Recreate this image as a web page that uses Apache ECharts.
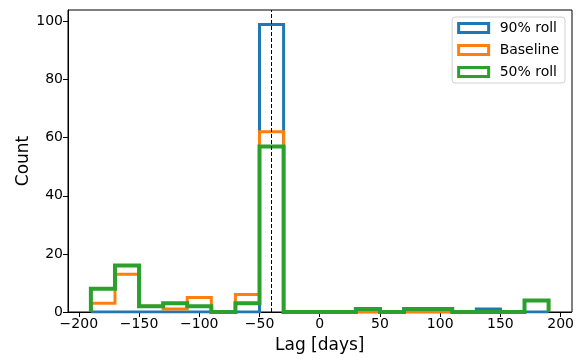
<!DOCTYPE html>
<html><head><meta charset="utf-8">
<script src="https://cdn.jsdelivr.net/npm/echarts@6/dist/echarts.min.js"></script>
<style>html,body{margin:0;padding:0;background:#fff}#c{width:577px;height:364px}</style>
</head><body><div id="c"></div>
<script>
// Bin edges (days)
const binEdges = [-190,-170,-150,-130,-110,-90,-70,-50,-30,-10,10,30,50,70,90,110,130,150,170,190];
const roll90   = [0,0,0,0,0,0,0,99,0,0,0,0,0,0,0,0,1,0,0];
const baseline = [3,13,2,1,5,0,6,62,0,0,0,0,0,0,0,0,0,0,4];
const roll50   = [8,16,2,3,2,0,3,57,0,0,0,1,0,1,1,0,0,0,4];
const xTicks = [-200,-150,-100,-50,0,50,100,150,200];
const yTicks = [0,20,40,60,80,100];
const lagLine = -40;

function stepPoints(counts){
  const pts = [[binEdges[0],0]];
  for(let i=0;i<counts.length;i++){
    pts.push([binEdges[i],counts[i]]);
    pts.push([binEdges[i+1],counts[i]]);
  }
  pts.push([binEdges[binEdges.length-1],0]);
  return pts;
}
const font = 'DejaVu Sans';
const colors = ['#1f77b4','#ff7f0e','#2ca02c'];
const widths = [3,3,4];
const names = ['90% roll','Baseline','50% roll'];
const datas = [roll90, baseline, roll50];

const chart = echarts.init(document.getElementById('c'));
const series = datas.map((d,i)=>({
  name: names[i], type:'line', data: stepPoints(d), showSymbol:false, symbol:'none',
  lineStyle:{color:colors[i], width:widths[i], join:'miter'}, itemStyle:{color:colors[i]},
  animation:false, z:2+i
}));
series[0].markLine = {silent:true, symbol:'none', label:{show:false}, z:10,
    lineStyle:{color:'#000', type:[4,2], width:1}, data:[{xAxis:lagLine}]};
chart.setOption({
  animation:false,
  grid:{left:68, right:5, top:10, bottom:52},
  xAxis:{type:'value', min:-209, max:209,
    name:'Lag [days]', nameLocation:'middle', nameGap:25, nameMoveOverlap:false,
    nameTextStyle:{fontFamily:font, fontSize:17, color:'#000'},
    axisLine:{show:true, onZero:false, lineStyle:{color:'#000', width:1}},
    axisTick:{show:true, length:5, lineStyle:{color:'#000'}, customValues: xTicks},
    axisLabel:{fontFamily:font, fontSize:14, color:'#000', margin:5,
      formatter:v=> String(v).replace('-','\u2212'), customValues: xTicks},
    splitLine:{show:false}
  },
  yAxis:{type:'value', min:0, max:103.95,
    name:'Count', nameLocation:'middle', nameGap:36, nameMoveOverlap:false,
    nameTextStyle:{fontFamily:font, fontSize:17, color:'#000'},
    axisLine:{show:true, onZero:false, lineStyle:{color:'#000', width:1}},
    axisTick:{show:true, length:5, lineStyle:{color:'#000'}, customValues: yTicks},
    axisLabel:{fontFamily:font, fontSize:14, color:'#000', margin:5, customValues: yTicks},
    splitLine:{show:false}
  },
  legend:{right:12, top:17, orient:'vertical', icon:'rect', itemWidth:30, itemHeight:9, itemGap:8,
    padding:[4,6,4,5], borderColor:'#d0d0d0', borderWidth:1, borderRadius:3, backgroundColor:'#fff',
    textStyle:{fontFamily:font, fontSize:14, color:'#000', padding:[0,0,0,6]},
    data: names.map((n,i)=>({name:n, itemStyle:{color:'#fff', borderColor:colors[i], borderWidth:3}}))
  },
  graphic:[{type:'rect', shape:{x:68, y:10, width:504, height:302}, style:{fill:'none', stroke:'#000', lineWidth:1}, silent:true, z:0}],
  series: series
});
</script></body></html>
